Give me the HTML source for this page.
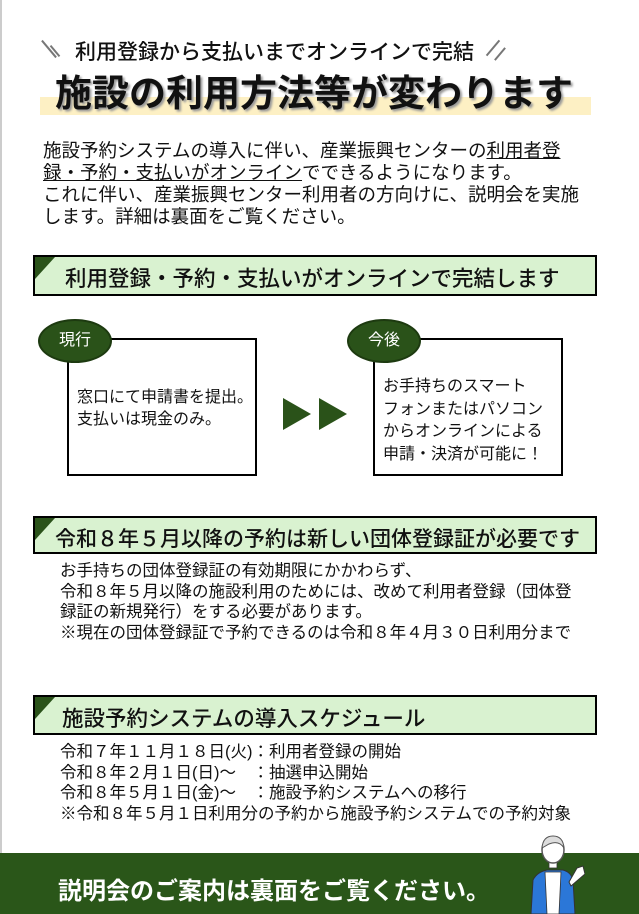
<!DOCTYPE html>
<html><head><meta charset="utf-8"><style>
*{margin:0;padding:0;box-sizing:border-box}
body{width:639px;height:914px;position:relative;background:#fff;overflow:hidden;font-family:"Liberation Sans","Noto Sans CJK JP",sans-serif;color:#111}
.a{position:absolute;white-space:nowrap}
.hdr{position:absolute;left:33px;width:564px;border:2px solid #000;background:#d9f2d0;overflow:hidden}
.hdr:before{content:"";position:absolute;left:0;top:0;border-top:22px solid #2a5219;border-right:20px solid transparent}
.hdr span{position:absolute;white-space:nowrap;font-weight:500}
.badge{position:absolute;width:74px;height:44px;border-radius:50%;background:#2a5219;border:2px solid #1d3a10;color:#fff;font-size:16px;text-align:center;line-height:40px}
.box{position:absolute;border:2px solid #000;background:#fff}
.tri{position:absolute;width:0;height:0;border-top:16px solid transparent;border-bottom:16px solid transparent;border-left:28px solid #2a5219}
</style></head><body>
<div class="a" style="left:0;top:0;width:2px;height:855px;background:#ccc"></div>

<div class="a" style="left:48px;top:38px;width:2px;height:22px;background:#777;transform:rotate(-40deg)"></div>
<div class="a" style="left:54px;top:44px;width:2px;height:14px;background:#777;transform:rotate(-40deg)"></div>
<div class="a" style="left:75px;top:36px;font-size:21px;font-weight:500">利用登録から支払いまでオンラインで完結</div>
<div class="a" style="left:492px;top:38px;width:2px;height:20px;background:#777;transform:rotate(40deg)"></div>
<div class="a" style="left:499px;top:46px;width:2px;height:16px;background:#777;transform:rotate(40deg)"></div>

<div class="a" style="left:40px;top:97px;width:551px;height:18px;background:#fdf0c4"></div>
<div class="a" style="left:55px;top:63px;font-size:37px;font-weight:700;text-shadow:2px 2px 2px #999">施設の利用方法等が変わります</div>

<div class="a" style="left:43px;top:140px;font-size:18.5px;line-height:22px;">施設予約システムの導入に伴い、産業振興センターの<u>利用者登</u><br><u>録・予約・支払いがオンライン</u>でできるようになります。<br>これに伴い、産業振興センター利用者の方向けに、説明会を実施<br>します。詳細は裏面をご覧ください。</div>

<div class="hdr" style="top:255px;height:41px"><span style="left:30px;top:5px;font-size:21.5px">利用登録・予約・支払いがオンラインで完結します</span></div>

<div class="box" style="left:67px;top:338px;width:190px;height:138px"></div>
<div class="badge" style="left:38px;top:319px">現行</div>
<div class="a" style="left:77px;top:387px;font-size:16px;line-height:22px">窓口にて申請書を提出。<br>支払いは現金のみ。</div>

<div class="tri" style="left:283px;top:398px"></div>
<div class="tri" style="left:319px;top:398px"></div>

<div class="box" style="left:373px;top:338px;width:190px;height:138px"></div>
<div class="badge" style="left:347px;top:319px">今後</div>
<div class="a" style="left:383px;top:376px;font-size:16px;line-height:22.5px">お手持ちのスマート<br>フォンまたはパソコン<br>からオンラインによる<br>申請・決済が可能に！</div>

<div class="hdr" style="top:516px;height:38px"><span style="left:20px;top:5px;font-size:21px">令和８年５月以降の予約は新しい団体登録証が必要です</span></div>
<div class="a" style="left:60px;top:561px;font-size:16.5px;line-height:20.5px">お手持ちの団体登録証の有効期限にかかわらず、<br>令和８年５月以降の施設利用のためには、改めて利用者登録（団体登<br>録証の新規発行）をする必要があります。<br>※現在の団体登録証で予約できるのは令和８年４月３０日利用分まで</div>

<div class="hdr" style="top:695px;height:40px"><span style="left:27px;top:5px;font-size:21.5px">施設予約システムの導入スケジュール</span></div>
<div class="a" style="left:60px;top:742px;font-size:16.5px;line-height:20.5px">令和７年１１月１８日(火)：利用者登録の開始<br>令和８年２月１日(日)～　：抽選申込開始<br>令和８年５月１日(金)～　：施設予約システムへの移行<br>※令和８年５月１日利用分の予約から施設予約システムでの予約対象</div>

<div class="a" style="left:0;top:853px;width:639px;height:61px;background:#2a5619"></div>
<div class="a" style="left:58px;top:871px;font-size:24px;font-weight:700;color:#fff">説明会のご案内は裏面をご覧ください。</div>

<svg class="a" style="left:525px;top:830px" width="60" height="84" viewBox="0 0 60 84">
<path d="M6 84 L8 50 Q12 42 22 40 L38 40 Q46 42 48 50 L50 84 Z" fill="#2b77d8" stroke="#333" stroke-width="1"/>
<path d="M20 42 L36 42 L34 84 L22 84 Z" fill="#fff" stroke="#333" stroke-width="0.8"/>
<path d="M46 56 L60 44 L58 36 L52 38 L44 52 Z" fill="#fff" stroke="#333" stroke-width="1"/>
<rect x="24" y="28" width="8" height="10" fill="#fff" stroke="#333" stroke-width="0.8"/>
<ellipse cx="28" cy="20" rx="11" ry="13" fill="#fff" stroke="#555" stroke-width="1.5"/>
<path d="M17 18 Q18 6 28 6 Q38 6 39 18 Q34 10 24 14 Z" fill="#ddd" stroke="#555" stroke-width="1"/>
</svg>
</body></html>
